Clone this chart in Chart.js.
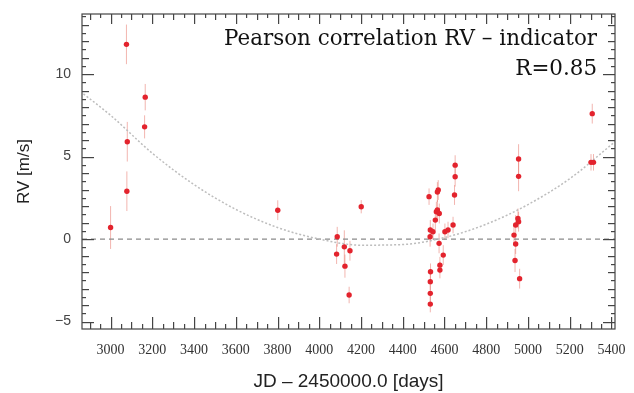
<!DOCTYPE html>
<html>
<head>
<meta charset="utf-8">
<script src="https://cdn.jsdelivr.net/npm/chart.js@4.4.1/dist/chart.umd.min.js"></script>
<style>
  html, body { margin: 0; padding: 0; background: #fff; }
  #wrap { width: 634px; height: 393px; }
</style>
</head>
<body>
<div id="wrap"><canvas id="rvChart" width="634" height="393"></canvas></div>
<script>
var jd = [3000, 3076, 3080, 3078, 3166, 3163, 3801,
  4086, 4083, 4120, 4123, 4147, 4143, 4201,
  4526, 4570, 4566, 4561, 4566, 4575, 4556, 4532, 4531, 4545, 4574,
  4602, 4617, 4641, 4648, 4651, 4651, 4594, 4578, 4578, 4533, 4532, 4532, 4532,
  4955, 4955, 4952, 4955, 4941, 4933, 4941, 4938, 4960,
  5308, 5302, 5314];
var rv = [0.7, 11.8, 5.9, 2.9, 8.6, 6.8, 1.75,
  0.14, -0.91, -0.47, -1.64, -0.71, -3.39, 1.96,
  2.57, 2.97, 2.85, 1.66, 1.76, 1.55, 1.15, 0.55, 0.14, 0.44, -0.26,
  0.44, 0.55, 0.85, 2.67, 4.48, 3.78, -0.97, -1.58, -1.88, -1.98, -2.59, -3.29, -3.94,
  4.85, 3.8, 1.25, 1.05, 0.85, 0.24, -0.3, -1.3, -2.4,
  7.6, 4.65, 4.65];
var rvErr = [1.3, 1.2, 1.2, 1.2, 0.8, 0.7, 0.6,
  0.6, 0.6, 1.0, 0.7, 0.6, 0.5, 0.4,
  0.5, 0.6, 0.6, 0.6, 0.6, 0.6, 0.6, 0.6, 0.6, 0.5, 0.6,
  0.5, 0.5, 0.5, 0.6, 0.6, 0.6, 0.6, 0.5, 0.5, 0.5, 0.5, 0.5, 0.5,
  0.9, 0.9, 0.6, 0.6, 0.6, 0.6, 0.6, 0.7, 0.6,
  0.6, 0.5, 0.5];

// dotted fit curve
var fitJd = [2870, 3000, 3200, 3400, 3600, 3800, 4000, 4200, 4400, 4600, 4800, 5000, 5200, 5417];
var fitRv = [8.8, 7.5, 5.2, 3.3, 1.8, 0.7, 0.0, -0.37, -0.33, 0.09, 0.9, 2.09, 3.66, 5.9];

var xMin = 2863, xMax = 5417;
var yMin = -5.45, yMax = 13.64;
var noteLines = ['Pearson correlation RV \u2013 indicator', 'R=0.85'];

function toPoints(xs, ys) {
  return xs.map(function(x, i) { return { x: x, y: ys[i] }; });
}

// vertical error bars under the points
var errorBars = {
  id: 'errorBars',
  beforeDatasetsDraw: function(chart) {
    var ctx = chart.ctx;
    var xs = chart.scales.x, ys = chart.scales.y;
    ctx.save();
    ctx.strokeStyle = 'rgba(232, 120, 110, 0.55)';
    ctx.lineWidth = 1;
    jd.forEach(function(x, i) {
      var px = xs.getPixelForValue(x);
      ctx.beginPath();
      ctx.moveTo(px, ys.getPixelForValue(rv[i] - rvErr[i]));
      ctx.lineTo(px, ys.getPixelForValue(rv[i] + rvErr[i]));
      ctx.stroke();
    });
    ctx.restore();
  }
};

// box frame with inward ticks on all four sides, plus the text note
var frame = {
  id: 'boxFrame',
  afterDraw: function(chart) {
    var ctx = chart.ctx, a = chart.chartArea;
    var xs = chart.scales.x, ys = chart.scales.y;
    ctx.save();
    ctx.strokeStyle = '#444';
    ctx.lineWidth = 1.2;
    ctx.strokeRect(a.left, a.top, a.right - a.left, a.bottom - a.top);
    ctx.fillStyle = '#444';
    for (var v = 2900; v <= xMax; v += 50) {
      var len = v % 200 === 0 ? 12 : (v % 100 === 0 ? 7 : 5);
      var px = Math.round(xs.getPixelForValue(v));
      ctx.fillRect(px, a.bottom - len, 1.2, len);
      ctx.fillRect(px, a.top, 1.2, Math.round(len * 0.8));
    }
    for (var i = 0; i * 0.5 <= yMax + 5; i++) {
      var w = -5 + i * 0.5;
      var l2 = i % 10 === 0 ? 12 : (i % 2 === 0 ? 7 : 4);
      var py = Math.round(ys.getPixelForValue(w));
      ctx.fillRect(a.left, py, l2, 1.2);
      ctx.fillRect(a.right - l2, py, l2, 1.2);
    }

    // note in the top right corner
    var size = 22;
    ctx.font = size + 'px "DejaVu Serif"';
    size = size * 373 / ctx.measureText(noteLines[0]).width;
    ctx.font = size + 'px "DejaVu Serif"';
    ctx.fillStyle = '#111';
    ctx.textAlign = 'right';
    ctx.textBaseline = 'alphabetic';
    ctx.fillText(noteLines[0], 597, 45);
    ctx.fillText(noteLines[1], 597, 75);
    ctx.restore();
  }
};

new Chart(document.getElementById('rvChart'), {
  type: 'scatter',
  data: {
    datasets: [{
      label: 'RV',
      data: toPoints(jd, rv),
      backgroundColor: '#e3232d',
      borderWidth: 0,
      pointRadius: 2.7
    }, {
      label: 'fit',
      type: 'line',
      data: toPoints(fitJd, fitRv),
      borderColor: '#bdbdbd',
      borderWidth: 1.5,
      borderDash: [2, 2],
      pointRadius: 0,
      cubicInterpolationMode: 'monotone',
      fill: false
    }, {
      label: 'zero',
      type: 'line',
      data: toPoints([xMin, xMax], [0, 0]),
      borderColor: '#8a8a8a',
      borderWidth: 1.2,
      borderDash: [5, 4],
      pointRadius: 0,
      fill: false
    }]
  },
  options: {
    responsive: false,
    animation: false,
    layout: { padding: { top: 14, right: 19, left: 0, bottom: 0 } },
    plugins: { legend: { display: false }, tooltip: { enabled: false } },
    scales: {
      x: {
        type: 'linear',
        min: xMin,
        max: xMax,
        grid: { display: false, drawTicks: false },
        border: { display: false },
        ticks: {
          stepSize: 200,
          includeBounds: false,
          padding: 13,
          maxRotation: 0,
          autoSkip: false,
          color: '#333',
          font: { family: '"Liberation Serif"', size: 14 },
          callback: function(v) { return String(v); }
        },
        title: {
          display: true,
          text: 'JD \u2013 2450000.0 [days]',
          color: '#222',
          font: { family: '"Liberation Sans"', size: 19 },
          padding: { top: 0, bottom: 0 }
        },
        afterFit: function(scale) {
          scale.height = 64;
          scale.paddingLeft = 0;
          scale.paddingRight = 0;
        }
      },
      y: {
        min: yMin,
        max: yMax,
        grid: { display: false, drawTicks: false },
        border: { display: false },
        ticks: {
          stepSize: 5,
          includeBounds: false,
          padding: 11,
          color: '#444',
          font: { family: '"Liberation Sans"', size: 14 },
          callback: function(v) { return v < 0 ? '\u2212' + Math.abs(v) : String(v); }
        },
        title: {
          display: true,
          text: 'RV [m/s]',
          color: '#222',
          font: { family: '"Liberation Sans"', size: 17 },
          padding: { top: 14, bottom: 0 }
        },
        afterFit: function(scale) {
          scale.width = 82;
          scale.paddingTop = 0;
          scale.paddingBottom = 0;
        }
      }
    }
  },
  plugins: [errorBars, frame]
});
</script>
</body>
</html>
